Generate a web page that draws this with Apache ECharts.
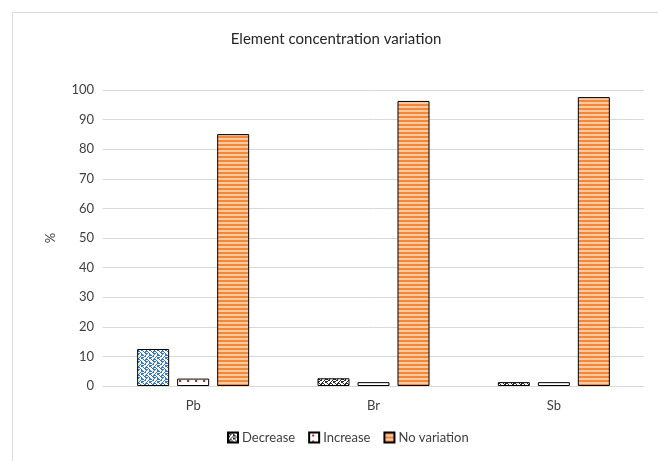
<!DOCTYPE html>
<html>
<head>
<meta charset="utf-8">
<script src="https://cdn.jsdelivr.net/npm/echarts@6/dist/echarts.min.js"></script>
<style>
  html, body { margin: 0; padding: 0; background: #fff; }
  #chart { width: 658px; height: 461px; }
</style>
</head>
<body>
<div id="chart"></div>
<script>
// Chart data
const categories = ['Pb', 'Br', 'Sb'];
const decreaseValues = [12.5, 2.6, 1.3];
const increaseValues = [2.5, 1.3, 1.3];
const noVariationValues = [85.1, 96.3, 97.6];
const seriesNames = ['Decrease', 'Increase', 'No variation'];

// Build small repeating fill tiles on canvas
function bitmapTile(rows, fg, bg) {
  const h = rows.length, w = rows[0].length;
  const c = document.createElement('canvas');
  c.width = w; c.height = h;
  const ctx = c.getContext('2d');
  ctx.fillStyle = bg; ctx.fillRect(0, 0, w, h);
  ctx.fillStyle = fg;
  for (let y = 0; y < h; y++)
    for (let x = 0; x < w; x++)
      if (rows[y][x] === '1') ctx.fillRect(x, y, 1, 1);
  return c;
}
const weave = [
  '11001000',
  '01110100',
  '00100110',
  '01000111',
  '11001000',
  '00010111',
  '00100110',
  '01110001'
];
const dots = [
  '00000000',
  '00000000',
  '00011000',
  '00011000',
  '00000000',
  '00000000'
];
function stripeTile() {
  const c = document.createElement('canvas');
  c.width = 4; c.height = 4;
  const ctx = c.getContext('2d');
  ctx.fillStyle = '#FBC9A0'; ctx.fillRect(0, 0, 4, 4);
  ctx.fillStyle = '#F2873A'; ctx.fillRect(0, 0, 4, 2);
  return c;
}
const bluePattern = { image: bitmapTile(weave, '#2f78c8', '#ffffff'), repeat: 'repeat' };
const darkPattern = { image: bitmapTile(weave, '#2b2b2b', '#ffffff'), repeat: 'repeat' };
const dotPattern = { image: bitmapTile(dots, '#d02020', '#ffffff'), repeat: 'repeat' };
const stripePattern = { image: stripeTile(), repeat: 'repeat' };

const font = 'Lato, "Liberation Sans", sans-serif';
const chart = echarts.init(document.getElementById('chart'), null, { renderer: 'canvas' });

const barBase = { type: 'bar', barWidth: 32, barGap: '25%', animation: false };

chart.setOption({
  backgroundColor: '#ffffff',
  textStyle: { fontFamily: font },
  title: {
    text: 'Element concentration variation',
    left: 331, top: 27, textAlign: 'center',
    textStyle: { fontFamily: font, fontSize: 15, fontWeight: 'normal', color: '#262626' }
  },
  graphic: [{
    type: 'rect', silent: true, z: -10,
    shape: { x: 12.5, y: 12.5, width: 700, height: 500 },
    style: { fill: 'none', stroke: '#d9d9d9', lineWidth: 1 }
  }],
  legend: {
    data: seriesNames,
    bottom: 12, left: 222,
    itemWidth: 10, itemHeight: 10, itemGap: 13,
    icon: 'rect',
    textStyle: { fontFamily: font, fontSize: 13, color: '#404040', padding: [0, 0, 0, -1] }
  },
  grid: { left: 103, right: 14, top: 90, bottom: 75, containLabel: false },
  xAxis: {
    type: 'category',
    data: categories,
    axisLine: { lineStyle: { color: '#d9d9d9', width: 1 } },
    axisTick: { show: false },
    axisLabel: { fontFamily: font, fontSize: 13, color: '#404040', margin: 13 }
  },
  yAxis: {
    type: 'value',
    min: 0, max: 100, interval: 10,
    name: '%', nameLocation: 'middle', nameGap: 46, nameRotate: 90,
    nameTextStyle: { fontFamily: font, fontSize: 13, color: '#404040' },
    axisLine: { show: false },
    axisTick: { show: false },
    axisLabel: { fontFamily: font, fontSize: 13, color: '#404040', margin: 9 },
    splitLine: { lineStyle: { color: '#d9d9d9', width: 1 } }
  },
  series: [
    Object.assign({}, barBase, {
      name: seriesNames[0],
      itemStyle: { color: darkPattern, borderColor: '#000', borderWidth: 1 },
      data: decreaseValues.map((v, i) => i === 0
        ? { value: v, itemStyle: { color: bluePattern } }
        : v)
    }),
    Object.assign({}, barBase, {
      name: seriesNames[1],
      itemStyle: { color: dotPattern, borderColor: '#000', borderWidth: 1 },
      data: increaseValues
    }),
    Object.assign({}, barBase, {
      name: seriesNames[2],
      itemStyle: { color: stripePattern, borderColor: '#000', borderWidth: 1 },
      data: noVariationValues
    })
  ]
});
</script>
</body>
</html>
